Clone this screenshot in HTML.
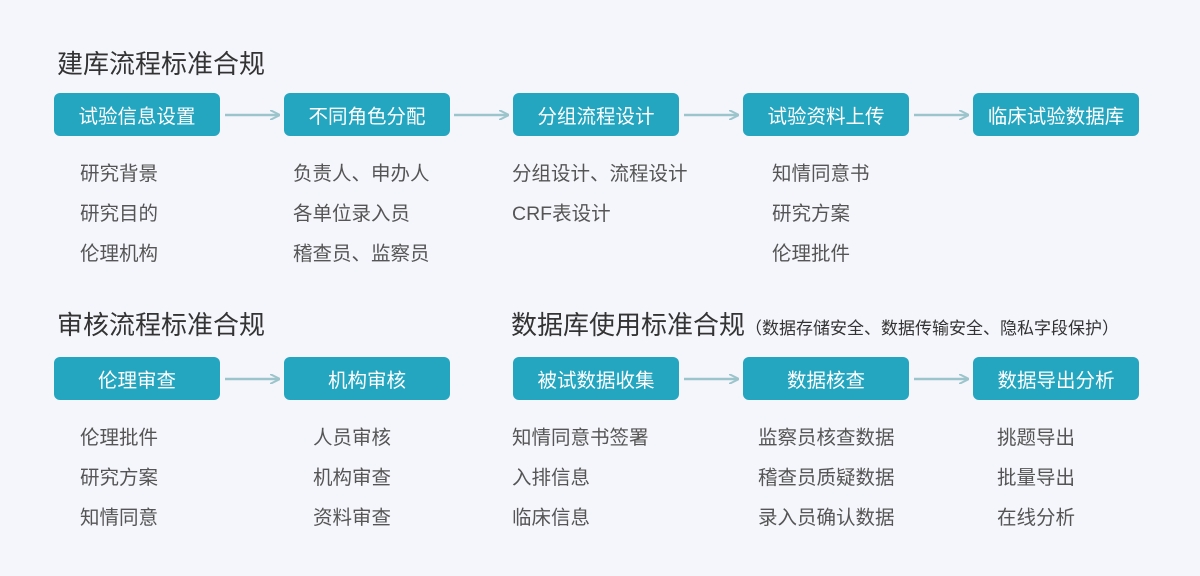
<!DOCTYPE html>
<html><head><meta charset="utf-8"><style>
body{margin:0;width:1200px;height:576px;background:#f5f6fb;position:relative;overflow:hidden;font-family:"Liberation Sans","Noto Sans CJK SC",sans-serif;}
.t{position:absolute;font-size:26px;color:#333;line-height:30px;white-space:nowrap}
.t small{font-size:17px;color:#333}
.b{position:absolute;width:166px;height:43px;background:#24a6c0;border-radius:6px;color:#fff;font-size:19.5px;line-height:49px;text-align:center}
.i{position:absolute;font-size:19.5px;color:#555;line-height:24px;white-space:nowrap}
svg{position:absolute;left:0;top:0}
</style></head><body>
<svg width="1200" height="576">
<defs><marker id="a" markerWidth="10" markerHeight="10" refX="9" refY="5" orient="auto" markerUnits="userSpaceOnUse"><path d="M0,0 L10,5 L0,10" fill="none" stroke="#9cc4cb" stroke-width="2"/></marker></defs>
<g stroke="#9cc4cb" stroke-width="2.5" marker-end="url(#a)">
<line x1="225" y1="115" x2="279" y2="115"/><line x1="454" y1="115" x2="508" y2="115"/><line x1="684" y1="115" x2="738" y2="115"/><line x1="914" y1="115" x2="968" y2="115"/>
<line x1="225" y1="379" x2="279" y2="379"/><line x1="684" y1="379" x2="738" y2="379"/><line x1="914" y1="379" x2="968" y2="379"/>
</g></svg>
<div class="t" style="left:57px;top:49px">建库流程标准合规</div>
<div class="t" style="left:57px;top:310px">审核流程标准合规</div>
<div class="t" style="left:511px;top:310px">数据库使用标准合规<small>（数据存储安全、数据传输安全、隐私字段保护）</small></div>
<div class="b" style="left:54px;top:93px">试验信息设置</div>
<div class="b" style="left:284px;top:93px">不同角色分配</div>
<div class="b" style="left:513px;top:93px">分组流程设计</div>
<div class="b" style="left:743px;top:93px">试验资料上传</div>
<div class="b" style="left:973px;top:93px">临床试验数据库</div>
<div class="b" style="left:54px;top:357px">伦理审查</div>
<div class="b" style="left:284px;top:357px">机构审核</div>
<div class="b" style="left:513px;top:357px">被试数据收集</div>
<div class="b" style="left:743px;top:357px">数据核查</div>
<div class="b" style="left:973px;top:357px">数据导出分析</div>

<div class="i" style="left:80px;top:162px">研究背景</div>
<div class="i" style="left:80px;top:202px">研究目的</div>
<div class="i" style="left:80px;top:242px">伦理机构</div>
<div class="i" style="left:293px;top:162px">负责人、申办人</div>
<div class="i" style="left:293px;top:202px">各单位录入员</div>
<div class="i" style="left:293px;top:242px">稽查员、监察员</div>
<div class="i" style="left:512px;top:162px">分组设计、流程设计</div>
<div class="i" style="left:512px;top:202px">CRF表设计</div>
<div class="i" style="left:772px;top:162px">知情同意书</div>
<div class="i" style="left:772px;top:202px">研究方案</div>
<div class="i" style="left:772px;top:242px">伦理批件</div>

<div class="i" style="left:80px;top:426px">伦理批件</div>
<div class="i" style="left:80px;top:466px">研究方案</div>
<div class="i" style="left:80px;top:506px">知情同意</div>
<div class="i" style="left:313px;top:426px">人员审核</div>
<div class="i" style="left:313px;top:466px">机构审查</div>
<div class="i" style="left:313px;top:506px">资料审查</div>
<div class="i" style="left:512px;top:426px">知情同意书签署</div>
<div class="i" style="left:512px;top:466px">入排信息</div>
<div class="i" style="left:512px;top:506px">临床信息</div>
<div class="i" style="left:758px;top:426px">监察员核查数据</div>
<div class="i" style="left:758px;top:466px">稽查员质疑数据</div>
<div class="i" style="left:758px;top:506px">录入员确认数据</div>
<div class="i" style="left:997px;top:426px">挑题导出</div>
<div class="i" style="left:997px;top:466px">批量导出</div>
<div class="i" style="left:997px;top:506px">在线分析</div>
</body></html>
